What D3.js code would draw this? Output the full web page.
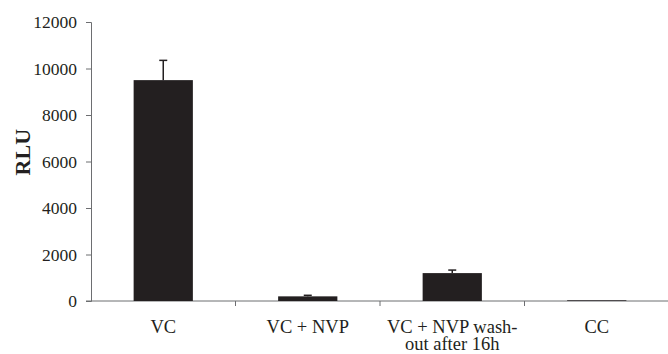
<!DOCTYPE html>
<html>
<head>
<meta charset="utf-8">
<script src="https://cdn.jsdelivr.net/npm/d3@7"></script>
<style>
  body { margin: 0; background: #fff; }
  text { font-family: "Liberation Serif", "Times New Roman", serif; fill: #231f20; }
</style>
</head>
<body>
<script>
// chart data
const categories = ["VC", "VC + NVP", "VC + NVP wash-|out after 16h", "CC"];
const values = [9500, 200, 1200, 30];
const errors = [850, 45, 130, 0];
const yTicks = [0, 2000, 4000, 6000, 8000, 10000, 12000];

const W = 668, H = 354;
const m = {left: 91, right: 0, top: 22, bottom: 53};

const svg = d3.select("body").append("svg")
  .attr("width", W).attr("height", H);

const x = d3.scaleBand().domain(categories).range([m.left, W - m.right + 1]).paddingInner(0).paddingOuter(0);
const y = d3.scaleLinear().domain([0, 12000]).range([H - m.bottom, m.top]);

const axisColor = "#6d6e71";

// y axis
const yAxis = svg.append("g")
  .attr("transform", "translate(" + m.left + ",0)")
  .call(d3.axisLeft(y).tickValues(yTicks).tickSize(5).tickPadding(9).tickFormat(d3.format("d")));
yAxis.select(".domain").attr("stroke", axisColor);
yAxis.selectAll(".tick line").attr("stroke", axisColor);
yAxis.selectAll("text").style("font-size", "17.5px").attr("fill", "#231f20");

// x axis line and ticks between categories
const y0 = y(0);
svg.append("line")
  .attr("x1", m.left - 5).attr("x2", W)
  .attr("y1", y0).attr("y2", y0)
  .attr("stroke", axisColor);
svg.selectAll("line.sep")
  .data(categories.slice(1))
  .enter().append("line")
  .attr("class", "sep")
  .attr("x1", d => x(d)).attr("x2", d => x(d))
  .attr("y1", y0).attr("y2", y0 + 5)
  .attr("stroke", axisColor);

// bars
const bw = x.bandwidth() * 0.41;
svg.selectAll("rect.bar")
  .data(categories)
  .enter().append("rect")
  .attr("class", "bar")
  .attr("x", d => x(d) + x.bandwidth() / 2 - bw / 2)
  .attr("width", bw)
  .attr("y", (d, i) => y(values[i]))
  .attr("height", (d, i) => y0 - y(values[i]))
  .attr("fill", "#231f20");

// error bars (upper only)
categories.forEach((c, i) => {
  if (!errors[i]) return;
  const cx = x(c) + x.bandwidth() / 2;
  svg.append("line")
    .attr("x1", cx).attr("x2", cx)
    .attr("y1", y(values[i])).attr("y2", y(values[i] + errors[i]))
    .attr("stroke", "#231f20").attr("stroke-width", 1.5);
  svg.append("line")
    .attr("x1", cx - 4).attr("x2", cx + 4)
    .attr("y1", y(values[i] + errors[i])).attr("y2", y(values[i] + errors[i]))
    .attr("stroke", "#231f20").attr("stroke-width", 1.5);
});

// category labels
categories.forEach(c => {
  const lines = c.split("|");
  const t = svg.append("text")
    .attr("x", x(c) + x.bandwidth() / 2)
    .attr("y", y0 + 32)
    .attr("text-anchor", "middle")
    .style("font-size", "18.5px");
  lines.forEach((l, j) => {
    t.append("tspan")
      .attr("x", x(c) + x.bandwidth() / 2)
      .attr("dy", j === 0 ? 0 : 17)
      .text(l);
  });
});

// y axis title
svg.append("text")
  .attr("transform", "translate(30," + y(6400) + ") rotate(-90)")
  .attr("text-anchor", "middle")
  .style("font-size", "22px")
  .style("font-weight", "bold")
  .text("RLU");
</script>
</body>
</html>
